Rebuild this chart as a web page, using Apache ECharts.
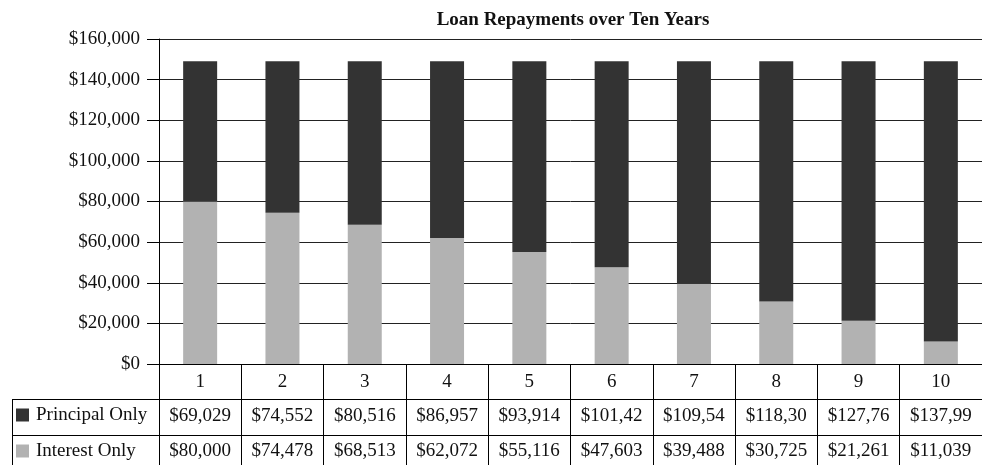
<!DOCTYPE html>
<html>
<head>
<meta charset="utf-8">
<script src="https://cdn.jsdelivr.net/npm/echarts@6/dist/echarts.min.js"></script>
<style>
html,body{margin:0;padding:0;background:#fff;}
#chart{width:982px;height:465px;}
</style>
</head>
<body>
<div id="chart"></div>
<script>
const titleText = 'Loan Repayments over Ten Years';
const categories = ['1','2','3','4','5','6','7','8','9','10'];
const principalValues = [69029, 74552, 80516, 86957, 93914, 101426, 109541, 118304, 127768, 137990];
const interestValues = [80000, 74478, 68513, 62072, 55116, 47603, 39488, 30725, 21261, 11039];
const principalLabels = ['$69,029','$74,552','$80,516','$86,957','$93,914','$101,42','$109,54','$118,30','$127,76','$137,99'];
const interestLabels = ['$80,000','$74,478','$68,513','$62,072','$55,116','$47,603','$39,488','$30,725','$21,261','$11,039'];
const seriesNames = ['Principal Only', 'Interest Only'];

const FONT = 'Liberation Serif';
const FS = 19;
const chart = echarts.init(document.getElementById('chart'), null, {renderer: 'canvas'});

function money(v){ return '$' + v.toLocaleString('en-US'); }

function tableAxis(data, offset, tickLen, margin){
  return {
    type: 'category', data: data, gridIndex: 0, position: 'bottom', offset: offset,
    boundaryGap: true,
    axisLine: {show: true, lineStyle: {color: '#000', width: 1}},
    axisTick: {show: true, interval: 0, length: tickLen, lineStyle: {color: '#000', width: 1}},
    axisLabel: {show: true, interval: 0, margin: margin, fontFamily: FONT, fontSize: FS, color: '#111'},
    splitLine: {show: false}
  };
}

chart.setOption({
  animation: false,
  backgroundColor: '#fff',
  title: {
    text: titleText, left: 573, top: 11, padding: 0, textAlign: 'center',
    textStyle: {fontFamily: FONT, fontSize: 19, fontWeight: 'bold', color: '#111'}
  },
  grid: {left: 159, top: 39, width: 830, height: 325, containLabel: false},
  legend: {
    data: seriesNames, orient: 'vertical', left: 16, top: 405, padding: 0,
    height: 60,
    itemWidth: 13, itemHeight: 13, itemGap: 16, icon: 'rect',
    textStyle: {fontFamily: FONT, fontSize: FS, color: '#111', lineHeight: 20, padding: [0,0,0,2]},
    selectedMode: false
  },
  xAxis: [
    tableAxis(categories, 0, 35, 9),
    tableAxis(principalLabels, 35, 36, 8),
    tableAxis(interestLabels, 71, 40, 7)
  ],
  yAxis: {
    type: 'value', min: 0, max: 160000, interval: 20000,
    axisLine: {show: true, lineStyle: {color: '#000', width: 1}},
    axisTick: {show: true, length: 12, lineStyle: {color: '#000', width: 1}},
    axisLabel: {margin: 19, fontFamily: FONT, fontSize: FS, color: '#111', formatter: money},
    splitLine: {show: true, lineStyle: {color: '#222', width: 1}}
  },
  series: [
    {name: 'Interest Only', type: 'bar', stack: 'total', xAxisIndex: 0, data: interestValues,
     barWidth: 34, itemStyle: {color: '#b2b2b2'}},
    {name: 'Principal Only', type: 'bar', stack: 'total', xAxisIndex: 0, data: principalValues,
     barWidth: 34, itemStyle: {color: '#333333'}}
  ],
  graphic: [
    {type: 'line', shape: {x1: 12, y1: 399.5, x2: 159, y2: 399.5}, style: {stroke: '#000', lineWidth: 1}, silent: true},
    {type: 'line', shape: {x1: 12, y1: 435.5, x2: 159, y2: 435.5}, style: {stroke: '#000', lineWidth: 1}, silent: true},
    {type: 'line', shape: {x1: 12.5, y1: 399, x2: 12.5, y2: 470}, style: {stroke: '#000', lineWidth: 1}, silent: true}
  ]
});
</script>
</body>
</html>
